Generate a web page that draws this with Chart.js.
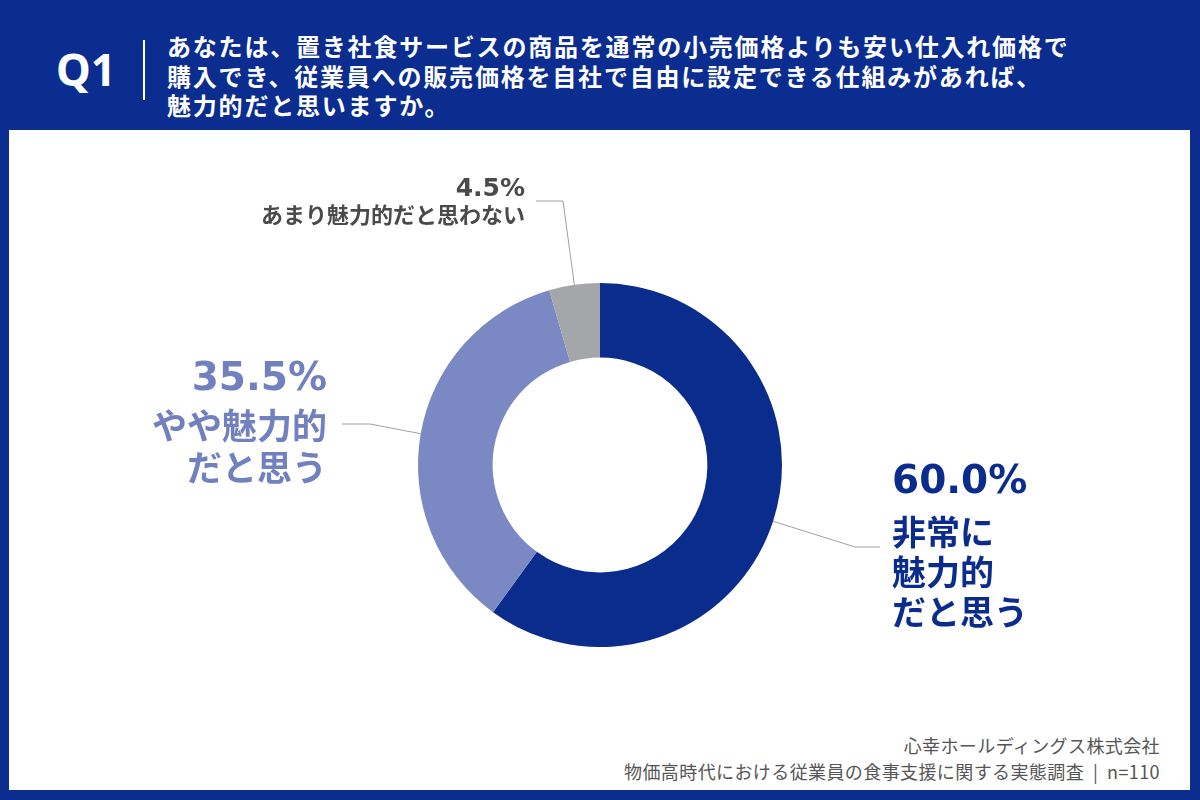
<!DOCTYPE html>
<html lang="ja">
<head>
<meta charset="utf-8">
<script src="https://cdn.jsdelivr.net/npm/chart.js@4.4.1/dist/chart.umd.min.js"></script>
<style>
  html, body { margin: 0; padding: 0; }
  body {
    width: 1200px; height: 800px; position: relative; overflow: hidden;
    background: #0a2d8f;
    font-family: "Noto Sans CJK JP", "Noto Sans", sans-serif;
  }
  #panel { position: absolute; left: 9px; top: 130px; width: 1181px; height: 660px; background: #fff; }
  #q { position: absolute; left: 56px; top: 44px; color: #fff; font-size: 44px; font-weight: 700; line-height: 50px; font-family: "Noto Sans", "Noto Sans CJK JP", sans-serif; }
  #bar { position: absolute; left: 143px; top: 40px; width: 2px; height: 60px; background: #fff; }
  #question { position: absolute; left: 167px; top: 31px; color: #fff; font-size: 24px; font-weight: 700; line-height: 29.5px; letter-spacing: 1.8px; white-space: nowrap; }
  #foot { position: absolute; right: 40px; top: 732px; color: #555; font-size: 18px; line-height: 26px; letter-spacing: 0.4px; text-align: right; white-space: nowrap; }
  canvas { position: absolute; left: 0; top: 0; }
</style>
</head>
<body>
<div id="panel"></div>
<div id="q">Q1</div>
<div id="bar"></div>
<div id="question">あなたは、置き社食サービスの商品を通常の小売価格よりも安い仕入れ価格で<br>購入でき、従業員への販売価格を自社で自由に設定できる仕組みがあれば、<br>魅力的だと思いますか。</div>
<div id="foot">心幸ホールディングス株式会社<br>物価高時代における従業員の食事支援に関する実態調査&nbsp;&nbsp;|&nbsp;&nbsp;n=110</div>
<canvas id="c" width="1200" height="800"></canvas>
<script>
const categories = ["非常に魅力的だと思う", "やや魅力的だと思う", "あまり魅力的だと思わない"];
const values = [60.0, 35.5, 4.5];
const labelLines = [["非常に", "魅力的", "だと思う"], ["やや魅力的", "だと思う"], ["あまり魅力的だと思わない"]];
const colors = ["#0a2c8c", "#7a88c4", "#a5a6a9"];
const textColors = ["#0a2c8c", "#7181bf", "#4a4a4a"];

// leader line elbow / end and text placement, relative to chart centre
const labelLayout = [
  { elbow: [255, 82], end: [280, 82], x: 292, y: 18, align: "left", numSize: 39, numStep: 49, txtSize: 34, step: 40 },
  { elbow: [-230, -41], end: [-258, -41], x: -273, y: -85, align: "right", numSize: 39, numStep: 46, txtSize: 35, step: 42 },
  { elbow: [-37, -264], end: [-64, -264], x: -75, y: -276, align: "right", numSize: 25, numStep: 26, txtSize: 22, step: 26 }
];

const leaderLabels = {
  id: "leaderLabels",
  afterDraw(chart) {
    const ctx = chart.ctx;
    const meta = chart.getDatasetMeta(0);
    meta.data.forEach((arc, i) => {
      const p = arc.getProps(["x", "y", "startAngle", "endAngle", "outerRadius"], true);
      const mid = (p.startAngle + p.endAngle) / 2;
      const sx = p.x + Math.cos(mid) * p.outerRadius;
      const sy = p.y + Math.sin(mid) * p.outerRadius;
      const L = labelLayout[i];
      ctx.save();
      ctx.strokeStyle = "#a0a0a0";
      ctx.lineWidth = 1;
      ctx.beginPath();
      ctx.moveTo(sx, sy);
      ctx.lineTo(p.x + L.elbow[0], p.y + L.elbow[1]);
      ctx.lineTo(p.x + L.end[0], p.y + L.end[1]);
      ctx.stroke();

      ctx.fillStyle = textColors[i];
      ctx.textAlign = L.align;
      ctx.textBaseline = "middle";
      const tx = p.x + L.x;
      let ty = p.y + L.y;
      ctx.font = "700 " + L.numSize + "px 'DejaVu Sans', 'Noto Sans', sans-serif";
      ctx.fillText(values[i].toFixed(1) + "%", tx, ty);
      ty += L.numStep;
      ctx.font = "700 " + L.txtSize + "px 'Noto Sans CJK JP', sans-serif";
      labelLines[i].forEach(line => {
        ctx.fillText(line, tx, ty);
        ty += L.step;
      });
      ctx.restore();
    });
  }
};

new Chart(document.getElementById("c"), {
  type: "doughnut",
  data: {
    labels: categories,
    datasets: [{
      data: values,
      backgroundColor: colors,
      borderWidth: 0
    }]
  },
  options: {
    responsive: false,
    animation: false,
    cutout: "59%",
    layout: { padding: { left: 418, right: 418, top: 283, bottom: 153 } },
    plugins: {
      legend: { display: false },
      tooltip: { enabled: false }
    }
  },
  plugins: [leaderLabels]
});
</script>
</body>
</html>
